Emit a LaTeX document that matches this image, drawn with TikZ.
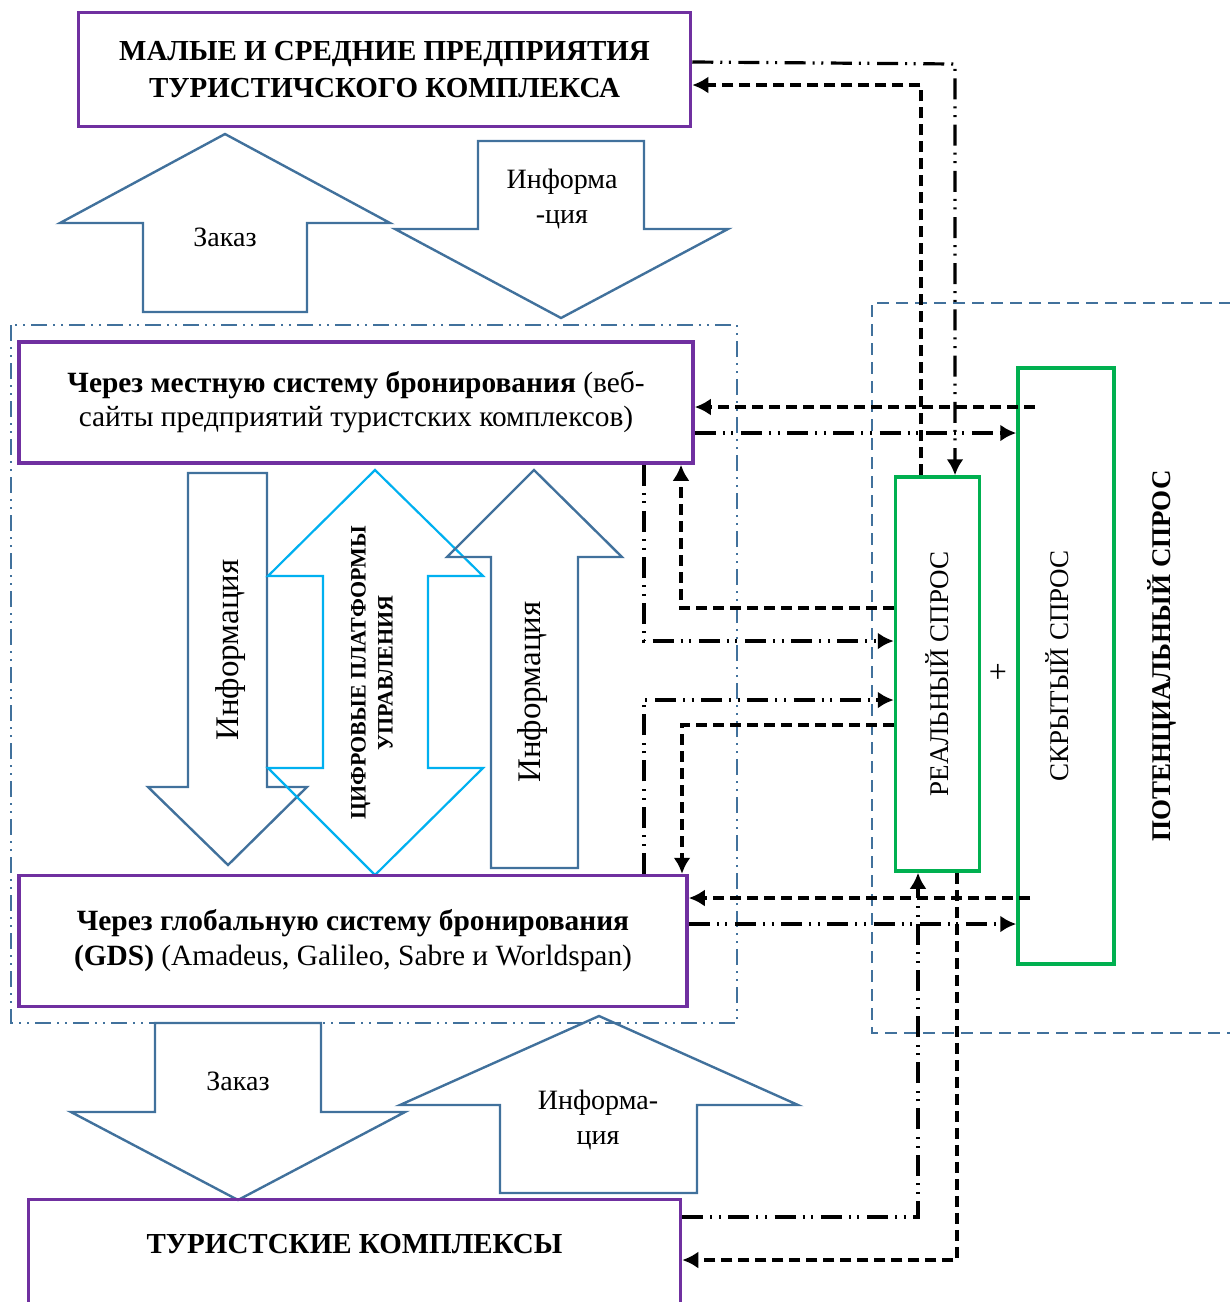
\documentclass[tikz,border=0pt]{standalone}
\usepackage{fontspec}
\setmainfont{Liberation Serif}
\usepackage{graphicx}
\usetikzlibrary{arrows.meta}
\definecolor{framepurple}{HTML}{7030A0}
\definecolor{demandgreen}{HTML}{00B050}
\definecolor{arrowblue}{HTML}{41719C}
\definecolor{platformblue}{HTML}{00B0F0}

\begin{document}
\begin{tikzpicture}[x=0.5pt, y=-0.5pt,
  box/.style={draw=framepurple, line width=1.75pt, align=center, inner sep=0pt},
  demand/.style={draw=demandgreen, line width=1.75pt, inner sep=0pt, font=\fontsize{13.5}{16}\selectfont},
  flow/.style={draw=arrowblue, line width=1.2pt},
  platform/.style={draw=platformblue, line width=1.1pt},
  txt/.style={font=\fontsize{14}{17.5}\selectfont, align=center, inner sep=0pt},
  query/.style={line width=1.6pt, dash pattern=on 10.5pt off 3.5pt on 1pt off 3.3pt on 1pt off 3.8pt, -{Latex[length=8pt,width=8.5pt]}},
  reply/.style={line width=1.6pt, dash pattern=on 5.5pt off 3pt, -{Latex[length=8pt,width=8.5pt]}}]
\useasboundingbox (0,0) rectangle (1230,1302);

\draw[draw=arrowblue, line width=0.9pt, dash pattern=on 8pt off 3pt on 1pt off 3pt on 1pt off 3pt] (11,325) rectangle (737,1023);
\draw[draw=arrowblue, line width=1pt, dash pattern=on 6pt off 3.5pt] (1250,303) -- (872,303) -- (872,1033) -- (1250,1033);

\draw[flow] (143,312) -- (143,223) -- (60,223) -- (225,134) -- (390,223) -- (307,223) -- (307,312) -- cycle;
\node[txt] (order1) at (225,237) {Заказ};
\draw[flow] (478,141) -- (644,141) -- (644,229) -- (728,229) -- (561,318) -- (395,229) -- (478,229) -- cycle;
\node[txt] (info1) at (562,199) {Информа\\-ция};

\draw[flow] (188,473) -- (267,473) -- (267,787) -- (307,787) -- (228,865) -- (148,787) -- (188,787) -- cycle;
\node[txt, font=\fontsize{16.5}{19}\selectfont, rotate=90] (info2) at (231,650) {Информация};
\draw[platform] (375,470) -- (483,576) -- (428,576) -- (428,768) -- (483,768) -- (375,875) -- (268,768) -- (323,768) -- (323,576) -- (268,576) -- cycle;
\node[txt, font=\bfseries\fontsize{11}{13.5}\selectfont, rotate=90] (digital) at (372,673) {ЦИФРОВЫЕ ПЛАТФОРМЫ\\УПРАВЛЕНИЯ};
\draw[flow] (491,868) -- (491,557) -- (447,557) -- (534,470) -- (622,557) -- (578,557) -- (578,868) -- cycle;
\node[txt, font=\fontsize{16.5}{19}\selectfont, rotate=90] (info3) at (533,692) {Информация};

\draw[flow] (155,1023) -- (321,1023) -- (321,1112) -- (405,1112) -- (238,1200) -- (71,1112) -- (155,1112) -- cycle;
\node[txt] (order2) at (238,1081) {Заказ};
\draw[flow] (500,1193) -- (500,1105) -- (400,1105) -- (599,1016) -- (798,1105) -- (697,1105) -- (697,1193) -- cycle;
\node[txt] (info4) at (598,1120) {Информа-\\ция};

\node[box, minimum width=306pt, minimum height=57pt, font=\bfseries\fontsize{14.5}{18.5}\selectfont] (smp) at (384.5,69.5) {МАЛЫЕ И СРЕДНИЕ ПРЕДПРИЯТИЯ\\ТУРИСТИЧСКОГО КОМПЛЕКСА};
\node[box, minimum width=337pt, minimum height=60.5pt, font=\fontsize{14.7}{17}\selectfont] (local) at (356,402.5) {\textbf{Через местную систему бронирования} (веб-\\сайты предприятий туристских комплексов)};
\node[box, minimum width=334pt, minimum height=65.5pt, font=\fontsize{14.7}{17.5}\selectfont] (gds) at (353,941) {\textbf{Через глобальную систему бронирования}\\\textbf{(GDS)} (Amadeus, Galileo, Sabre и Worldspan)};
\node[box, minimum width=326pt, text height=27pt, text depth=45pt, font=\bfseries\fontsize{14.5}{17}\selectfont, anchor=north] (tk) at (354.5,1197.5) {ТУРИСТСКИЕ КОМПЛЕКСЫ};

\node[demand, minimum width=42pt, minimum height=197pt] (real) at (937.5,674) {\rotatebox{90}{РЕАЛЬНЫЙ СПРОС}};
\node[demand, minimum width=48pt, minimum height=298pt] (hidden) at (1066,666) {\rotatebox{90}{СКРЫТЫЙ СПРОС}\hspace*{9pt}};
\node[txt, font=\fontsize{16}{18}\selectfont] (plus) at (998,673) {+};
\node[txt, font=\bfseries\fontsize{13.5}{16}\selectfont, rotate=90] (potential) at (1162,656) {ПОТЕНЦИАЛЬНЫЙ СПРОС};

\draw[query] (smp.east |- 0,62) -- (955,64) -- (955,0 |- real.north);
\draw[reply] (921,0 |- real.north) -- (921,85) -- (smp.east |- 0,85);
\draw[reply] (1035,407) -- (local.east |- 0,407);
\draw[query] (local.east |- 0,433) -- (hidden.west |- 0,433);
\draw[query] (644,0 |- local.south) -- (644,641) -- (real.west |- 0,641);
\draw[reply] (real.west |- 0,608) -- (681,608) -- (681,0 |- local.south);
\draw[query] (644,0 |- gds.north) -- (644,700) -- (real.west |- 0,700);
\draw[reply] (real.west |- 0,725) -- (682,725) -- (682,0 |- gds.north);
\draw[reply] (1030,898) -- (gds.east |- 0,898);
\draw[query] (gds.east |- 0,924) -- (hidden.west |- 0,924);
\draw[query] (tk.east |- 0,1217) -- (918,1217) -- (918,0 |- real.south);
\draw[reply] (957,0 |- real.south) -- (957,1260) -- (tk.east |- 0,1260);
\end{tikzpicture}
\end{document}
